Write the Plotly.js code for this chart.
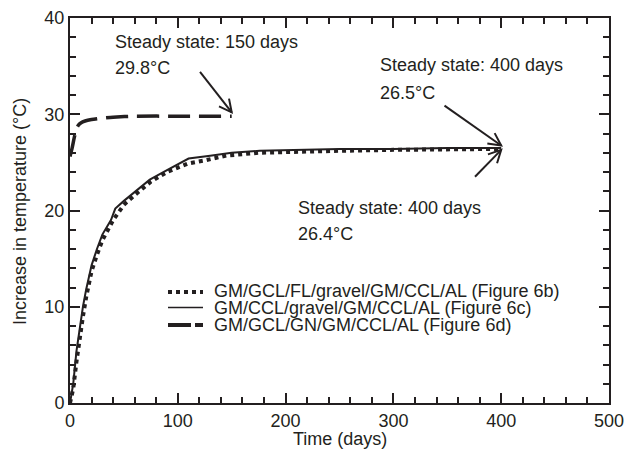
<!DOCTYPE html>
<html><head><meta charset="utf-8">
<script src="https://cdn.plot.ly/plotly-3.0.1.min.js"></script>
<style>html,body{margin:0;padding:0;background:#fff}</style>
</head><body><div id="chart" style="width:624px;height:450px"></div>
<script>
// Data
const seriesNames = [
  'GM/GCL/FL/gravel/GM/CCL/AL (Figure 6b)',
  'GM/CCL/gravel/GM/CCL/AL (Figure 6c)',
  'GM/GCL/GN/GM/CCL/AL (Figure 6d)'
];
const days6b = [0, 3, 6, 9, 12, 15, 20, 25, 30, 40, 45, 50, 60, 75, 90, 100, 110, 125, 145, 175, 200, 250, 300, 350, 400];
const temp6b = [0, 1.5, 4.3, 6.8, 9.0, 11.0, 13.7, 15.4, 16.9, 19.0, 19.8, 20.6, 21.6, 23.0, 24.0, 24.5, 24.9, 25.2, 25.7, 26.0, 26.1, 26.2, 26.3, 26.4, 26.4];
const days6c = [0, 3, 6, 9, 12, 15, 20, 25, 30, 38, 42, 50, 60, 74, 90, 99, 110, 130, 150, 176, 213, 250, 300, 350, 400];
const temp6c = [0, 2.0, 5.4, 7.9, 10.0, 11.8, 14.3, 16.0, 17.5, 19.0, 20.2, 21.0, 21.9, 23.2, 24.2, 24.7, 25.4, 25.7, 26.0, 26.2, 26.3, 26.4, 26.4, 26.5, 26.5];
const days6d = [0, 2, 4, 6, 8, 10, 14, 20, 30, 40, 60, 100, 150];
const temp6d = [25.6, 26.5, 27.6, 28.5, 28.9, 29.1, 29.3, 29.45, 29.6, 29.7, 29.8, 29.8, 29.8];

const xTickStep = 100, xMinorStep = 20;
const yTickStep = 10, yMinorStep = 2;
const xTitle = 'Time (days)';
const yTitle = 'Increase in temperature (°C)';

const noteLines = [
  ['Steady state: 150 days', '29.8°C'],
  ['Steady state: 400 days', '26.5°C'],
  ['Steady state: 400 days', '26.4°C']
];
const noteAnchors = [[40, 37.5, 34.8], [285.5, 35.1, 32.2], [209.5, 20.3, 17.6]];
const arrowTails = [[120.6, 34.4], [347.4, 30.9], [375.7, 23.5]];
const arrowTips = [[150, 30.2], [400, 26.75], [400, 26.3]];

// Layout geometry
const W = 624, H = 450, ML = 70, MR = 15, MT = 18, MB = 47;
const PW = W - ML - MR, PH = H - MT - MB;
const XS = PW / 500, YS = PH / 40;
const FONT = 'Liberation Sans, Arial, Helvetica, sans-serif';
const FS = 18;
const INK = '#231f20';

const traces = [
  {x: days6b, y: temp6b, mode: 'lines', name: seriesNames[0],
   line: {color: INK, width: 4, dash: '4px,4px'}},
  {x: days6c, y: temp6c, mode: 'lines', name: seriesNames[1],
   line: {color: INK, width: 2}},
  {x: days6d, y: temp6d, mode: 'lines', name: seriesNames[2],
   line: {color: INK, width: 3.5, dash: '22px,9px', shape: 'spline', smoothing: 0.6}}
];

const shapes = [];
const annotations = [];

// arrows with open V heads
function addArrow(tail, tip) {
  shapes.push({type: 'line', xref: 'x', yref: 'y', x0: tail[0], y0: tail[1], x1: tip[0], y1: tip[1],
    layer: 'below', line: {color: INK, width: 2}});
  const dx = (tip[0] - tail[0]) * XS, dy = -(tip[1] - tail[1]) * YS;
  const len = Math.hypot(dx, dy);
  const ux = -dx / len, uy = -dy / len;
  const L = 14, a = 27 * Math.PI / 180;
  const pts = [a, -a].map(t => {
    const hx = ux * Math.cos(t) - uy * Math.sin(t);
    const hy = ux * Math.sin(t) + uy * Math.cos(t);
    return [tip[0] + L * hx / XS, tip[1] - L * hy / YS];
  });
  shapes.push({type: 'path', xref: 'x', yref: 'y', layer: 'below',
    path: `M${pts[0][0]},${pts[0][1]} L${tip[0]},${tip[1]} L${pts[1][0]},${pts[1][1]}`,
    line: {color: INK, width: 2}});
}
for (let i = 0; i < arrowTails.length; i++) addArrow(arrowTails[i], arrowTips[i]);

for (let i = 0; i < noteLines.length; i++) {
  const [x, y1, y2] = noteAnchors[i];
  annotations.push({x: x, y: y1, xref: 'x', yref: 'y', text: noteLines[i][0], showarrow: false,
    xanchor: 'left', yanchor: 'middle', font: {family: FONT, size: FS, color: INK}});
  annotations.push({x: x, y: y2, xref: 'x', yref: 'y', text: noteLines[i][1], showarrow: false,
    xanchor: 'left', yanchor: 'middle', font: {family: FONT, size: FS, color: INK}});
}

// manual legend (tight row spacing as in the reference)
const legRowsPx = [290.5, 307.5, 325];
const legSampleDash = ['4px,4px', 'solid', '23px,4px'];
const legSampleWidth = [4, 1.5, 4];
const px2paperX = p => (p - ML) / PW;
const px2paperY = p => (H - MB - p) / PH;
for (let i = 0; i < seriesNames.length; i++) {
  const yy = px2paperY(legRowsPx[i] + (i === 0 ? 1.5 : 0));
  shapes.push({type: 'line', xref: 'paper', yref: 'paper', x0: px2paperX(168), x1: px2paperX(203),
    y0: yy, y1: yy, layer: 'below', line: {color: INK, width: legSampleWidth[i], dash: legSampleDash[i]}});
  annotations.push({x: px2paperX(212), y: px2paperY(legRowsPx[i]), xref: 'paper', yref: 'paper',
    text: seriesNames[i], showarrow: false, xanchor: 'left', yanchor: 'middle',
    font: {family: FONT, size: FS, color: INK}});
}

// axis titles placed as annotations
annotations.push({x: px2paperX(340), y: px2paperY(439), xref: 'paper', yref: 'paper', text: xTitle,
  showarrow: false, xanchor: 'center', yanchor: 'middle', font: {family: FONT, size: FS, color: INK}});
annotations.push({x: px2paperX(20), y: px2paperY(212), xref: 'paper', yref: 'paper', text: yTitle,
  textangle: -90, showarrow: false, xanchor: 'center', yanchor: 'middle', font: {family: FONT, size: FS, color: INK}});

const axisCommon = {
  showline: true, linecolor: INK, linewidth: 2, mirror: 'ticks',
  ticks: 'inside', ticklen: 10, tickwidth: 2, tickcolor: INK,
  showgrid: false, zeroline: false,
  tickfont: {family: FONT, size: FS, color: INK},
  ticklabeloverflow: 'allow'
};

const layout = {
  width: W, height: H,
  margin: {l: ML, r: MR, t: MT, b: MB},
  showlegend: false,
  xaxis: Object.assign({}, axisCommon, {
    range: [0, 500], dtick: xTickStep,
    minor: {dtick: xMinorStep, ticks: 'inside', ticklen: 6, tickwidth: 1.5, tickcolor: INK}
  }),
  yaxis: Object.assign({}, axisCommon, {
    range: [0, 40], dtick: yTickStep,
    minor: {dtick: yMinorStep, ticks: 'inside', ticklen: 6, tickwidth: 1.5, tickcolor: INK}
  }),
  shapes: shapes,
  annotations: annotations
};

Plotly.newPlot('chart', traces, layout, {displayModeBar: false}).then(gd => {
  // force a layout read so the finished SVG is painted
  document.querySelectorAll('path.xtick, path.ytick').forEach(p => p.getBoundingClientRect());
});
</script>
</body></html>
